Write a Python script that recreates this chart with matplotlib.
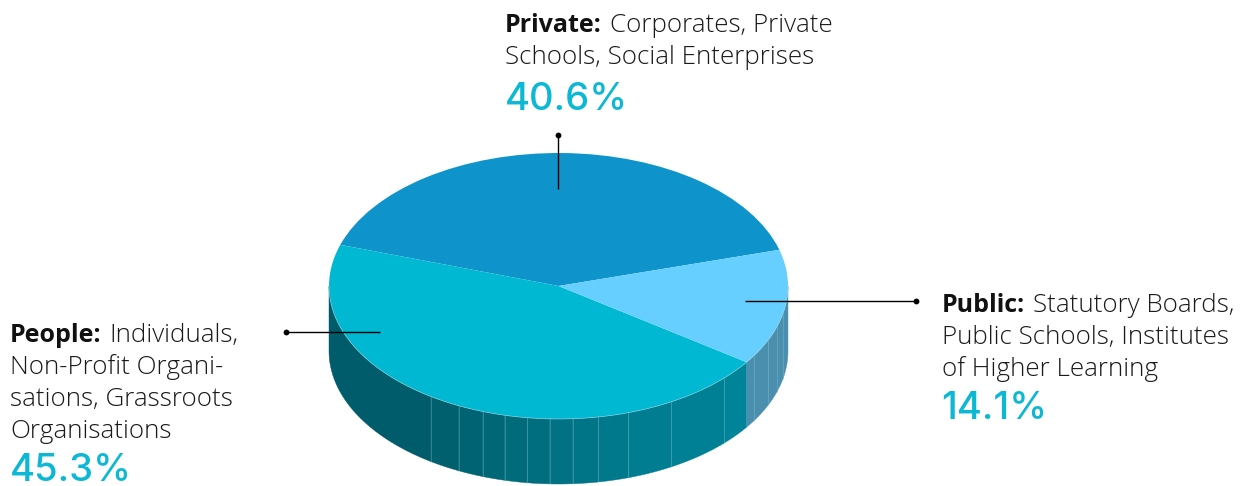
import numpy as np
import matplotlib
matplotlib.use('Agg')
import matplotlib.pyplot as plt
from matplotlib.colors import to_rgb

W, H = 1253, 486

# data
categories = ['Private', 'People', 'Public']
shares = [40.6, 45.3, 14.1]
share_labels = ['40.6%', '45.3%', '14.1%']
descriptions = [
    ['Corporates, Private', 'Schools, Social Enterprises'],
    ['Individuals,', 'Non-Profit Organi-', 'sations, Grassroots', 'Organisations'],
    ['Statutory Boards,', 'Public Schools, Institutes', 'of Higher Learning'],
]

# look
top_colors = ['#0E94CB', '#00B8D2', '#66CFFF']
people_dark, people_light = '#005C6A', '#008499'
public_side = '#4A8FAE'
start_angle = 15.8
cx, cy, rx, ry, depth = 558.5, 286, 229.5, 133, 65
# where the facets of the side wall break (degrees round the ellipse)
facets_people = [180, 236.2, 244.2, 250.7, 256.4, 262.2, 267.8, 273.5, 280, 287.7, 299.4, 316.2]
facets_public = [328.4, 336, 342.2, 348, 360]

plt.rcParams['font.family'] = ['Open Sans', 'DejaVu Sans']

fig = plt.figure(figsize=(W / 100, H / 100), dpi=100)

# pie axes, squashed so the circle becomes the ellipse
ax = fig.add_axes([(cx - rx) / W, 1 - (cy + ry) / H, 2 * rx / W, 2 * ry / H])
wedges, _ = ax.pie(shares, colors=top_colors, startangle=start_angle, counterclock=True,
                   radius=1, wedgeprops={'linewidth': 0}, normalize=True)
ax.set_aspect('auto')
ax.set_xlim(-1, 1)
ax.set_ylim(-1, 1)
for w in wedges:
    w.set_zorder(5)

d = depth / ry


def wall(a0, a1, color):
    t = np.radians(np.linspace(a0, a1, 40))
    x = np.cos(t)
    y = np.sin(t)
    ax.fill(np.r_[x, x[::-1]], np.r_[y, y[::-1] - d], color=color, lw=0.3, clip_on=False, zorder=2)


# side wall, built from where the slices end
people_end = start_angle + 3.6 * (shares[0] + shares[1])
edges = facets_people + [people_end]
c0, c1 = np.array(to_rgb(people_dark)), np.array(to_rgb(people_light))
for i in range(len(edges) - 1):
    f = i / (len(edges) - 2)
    wall(edges[i], edges[i + 1], c0 + (c1 - c0) * f)
edges_pub = [people_end] + facets_public
for i in range(len(edges_pub) - 1):
    wall(edges_pub[i], edges_pub[i + 1], public_side)

# thin pale lines between facets
for a in facets_people[1:] + facets_public[:-1]:
    t = np.radians(a)
    ax.plot([np.cos(t)] * 2, [np.sin(t), np.sin(t) - d], color='#8FC4CE', lw=0.6, alpha=0.4,
            clip_on=False, zorder=3)

# pale rim along the front of the top face
t = np.radians(np.linspace(180, 360, 200))
ax.plot(np.cos(t), np.sin(t), color='#A5DCE6', lw=0.5, alpha=0.7, clip_on=False, zorder=6)

# overlay in pixel coordinates for labels and leader lines
ov = fig.add_axes([0, 0, 1, 1], zorder=10)
ov.set_xlim(0, W)
ov.set_ylim(H, 0)
ov.axis('off')
ov.patch.set_alpha(0)

leaders = [((558, 135), (558, 189)), ((286, 332), (380, 332)), ((916, 301), (745, 301))]
for (x0, y0), (x1, y1) in leaders:
    ov.plot([x0, x1], [y0, y1], color='black', lw=1.0, solid_capstyle='butt')
    ov.plot([x0], [y0], 'o', color='black', ms=4.2, mew=0)

text_pos = [(506, 32, 110), (11, 342, 481), (943, 312, 419)]
line_h = 32
pct_font = ['Inter', 'Open Sans', 'DejaVu Sans']
fig.canvas.draw()
rend = fig.canvas.get_renderer()
inv = ov.transData.inverted()
for cat, lines, pct, (x, y, y_pct) in zip(categories, descriptions, share_labels, text_pos):
    head = ov.text(x - 1, y, cat + ':', fontsize=18, fontweight='bold', color='#111111', va='baseline')
    bb = head.get_window_extent(rend)
    x_after = inv.transform((bb.x1, 0))[0] + 8
    ov.text(x_after, y, lines[0], fontsize=18.7, fontweight='light', color='#1a1a1a', va='baseline')
    for i, line in enumerate(lines[1:], start=1):
        ov.text(x - 1, y + i * line_h, line, fontsize=18.7, fontweight='light', color='#1a1a1a', va='baseline')
    ov.text(x - 1.5, y_pct, pct, fontsize=27.5, family=pct_font, fontweight='medium', color='#0DB8D4', va='baseline')

fig.savefig('out.png', dpi=100)
